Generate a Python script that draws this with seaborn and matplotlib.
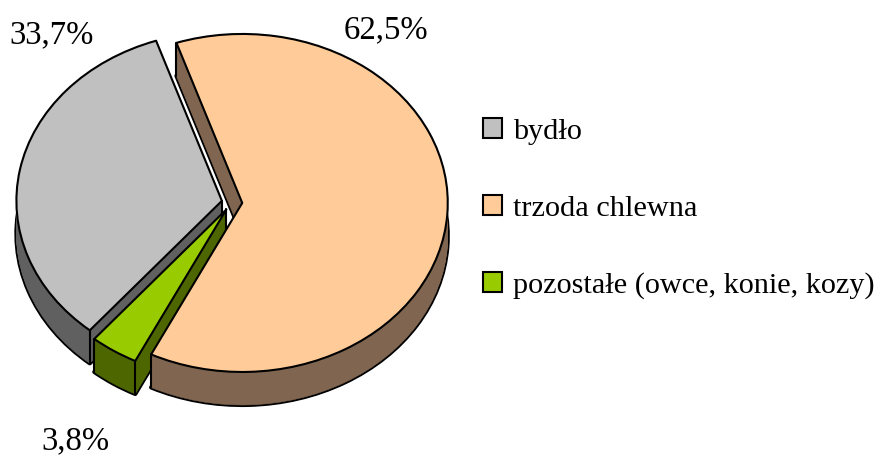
import numpy as np
import matplotlib
matplotlib.use("Agg")
import matplotlib.pyplot as plt
import seaborn as sns

categories = ["bydło", "trzoda chlewna", "pozostałe (owce, konie, kozy)"]
values = [33.7, 62.5, 3.8]
explode = [0.05, 0.05, 0.05]
top_colors = ["#C0C0C0", "#FFCC99", "#99CC00"]
wall_colors = ["#606060", "#806650", "#4D6600"]
stack_order = [10, 30, 20]

W, H = 877, 455
CX, CY, RX, RY = 232.0, 202.4, 205.5, 169.0
DEPTH = 33 / RY
LW = 1.5

sns.set_theme(style="white")
plt.rcParams["font.family"] = ["Liberation Serif", "DejaVu Serif"]

fig = plt.figure(figsize=(W / 100, H / 100), dpi=100, facecolor="white")
ax = fig.add_axes([0, 0, 1, 1])

pie_args = dict(explode=explode, startangle=-130, counterclock=False, normalize=True)
layers = np.linspace(DEPTH, 0, 34)[:-1]

# Silhouette of the lower rim: only its outer half stays visible under the walls.
bottom, _ = ax.pie(values, colors=["none"] * 3, center=(0, -DEPTH),
                   wedgeprops=dict(linewidth=2 * LW, edgecolor="black", joinstyle="round"), **pie_args)
for w, z in zip(bottom, stack_order):
    w.set_zorder(z)

for n, d in enumerate(layers):
    wedges, _ = ax.pie(values, colors=wall_colors, center=(0, -d),
                       wedgeprops=dict(linewidth=0.4), **pie_args)
    for w, c, z in zip(wedges, wall_colors, stack_order):
        w.set_edgecolor(c)
        w.set_zorder(z + 1 + n * 0.001)

top, _ = ax.pie(values, colors=top_colors, center=(0, 0),
                wedgeprops=dict(linewidth=LW, edgecolor="black", joinstyle="round"), **pie_args)
for w, z in zip(top, stack_order):
    w.set_zorder(z + 3)
    x0, y0 = w.center
    pts = [(x0, y0)]
    for a in (w.theta1, w.theta2):
        pts.append((x0 + w.r * np.cos(np.radians(a)), y0 + w.r * np.sin(np.radians(a))))
    for px, py in pts:
        ax.plot([px, px], [py, py - DEPTH], color="black", lw=LW, zorder=z + 2,
                solid_capstyle="round")

ax.set_aspect("auto")
ax.set_xlim(-CX / RX, (W - CX) / RX)
ax.set_ylim((CY - H) / RY, CY / RY)
ax.set_axis_off()

label_px = [(9, 43), (344, 38), (41, 449)]
for v, (px, py) in zip(values, label_px):
    fig.text(px / W, 1 - py / H, f"{v:.1f}".replace(".", ",") + "%", fontsize=23.6,
             color="black", ha="left", va="baseline")

leg = fig.legend(top, categories, loc="center left", bbox_to_anchor=(483 / W, 1 - 208.5 / H),
                 frameon=False, fontsize=21.8, borderpad=0, borderaxespad=0,
                 handlelength=0.63, handleheight=0.63, handletextpad=0.35, labelspacing=1.66,
                 labelcolor="black")

fig.savefig("out.png", dpi=100, facecolor="white")
